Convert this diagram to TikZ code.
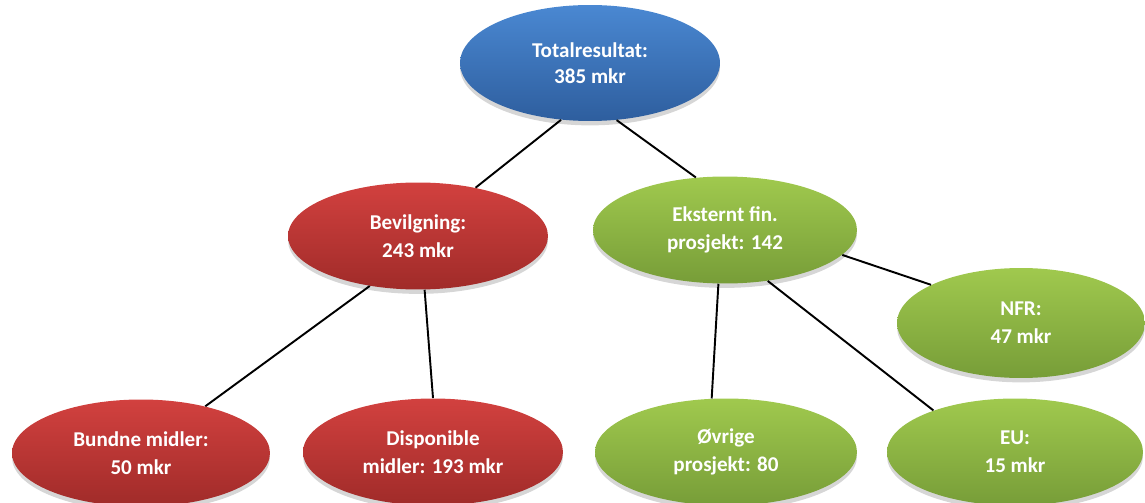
\documentclass[tikz,border=0pt]{standalone}
\usepackage{fontspec}
\setmainfont{Carlito}
\usetikzlibrary{shapes.geometric}
\usetikzlibrary{shadows}

\definecolor{blaTopp}{HTML}{4A88D2}
\definecolor{blaBunn}{HTML}{2E5E9E}
\definecolor{rodTopp}{HTML}{D2413F}
\definecolor{rodBunn}{HTML}{A02B29}
\definecolor{gronnTopp}{HTML}{A0C94E}
\definecolor{gronnBunn}{HTML}{779D38}

\tikzset {
  boble/.style = {
    ellipse,
    align = center,
    inner sep = 0pt,
    text = white,
    font = \fontsize{12}{16}\selectfont\bfseries,
    minimum width = 5.2cm,
    minimum height = 2.14cm,
    drop shadow={shadow xshift=0pt,shadow yshift=-2.5pt,opacity=.16,fill=black}
  },
  % toppnode
  bla/.style = {
    boble,
    top color = blaTopp,
    bottom color = blaBunn
  },
  % bevilgning
  rod/.style = {
    boble,
    top color = rodTopp,
    bottom color = rodBunn
  },
  % eksternt finansiert
  gronn/.style = {
    boble,
    top color = gronnTopp,
    bottom color = gronnBunn
  },
  kant/.style = {
    draw = black,
    line width = 1.1pt
  }
}

\begin{document}
\begin{tikzpicture}[x=0.02cm, y=-0.02cm]
    \useasboundingbox (0,0) rectangle (1145,503);

    \node[bla, minimum height = 2.32cm, font = \fontsize{12}{14.5}\selectfont\bfseries]
      (total) at (590,63) {Totalresultat:\\385 mkr};

    \node[rod] (bev) at (418,236) {Bevilgning:\\243 mkr};
    \node[gronn, minimum width = 5.28cm] (ekst) at (725,230) {Eksternt fin.\\prosjekt: 142};
    \node[gronn, minimum width = 4.96cm, minimum height = 2.2cm] (nfr) at (1021,323) {NFR:\\47 mkr};

    \node[rod, minimum width = 5.16cm] (bund) at (141,453) {Bundne midler:\\50 mkr};
    \node[rod] (disp) at (433,452) {Disponible\\midler: 193 mkr};
    \node[gronn, minimum width = 5.24cm] (ovr) at (726,452) {Øvrige\\prosjekt: 80};
    \node[gronn, minimum width = 5.12cm] (eu) at (1015,452) {EU:\\15 mkr};

    \draw[kant] (total.243) -- (bev.40);
    \draw[kant] (total.295) -- (ekst.119);
    \draw[kant] (bev.226) -- (bund.36);
    \draw[kant] (bev.277) -- (disp.90);
    \draw[kant] (ekst.263) -- (ovr.105);
    \draw[kant] (ekst.310) -- (eu.153);
    \draw[kant] (ekst.348) -- (nfr.157);
\end{tikzpicture}
\end{document}
